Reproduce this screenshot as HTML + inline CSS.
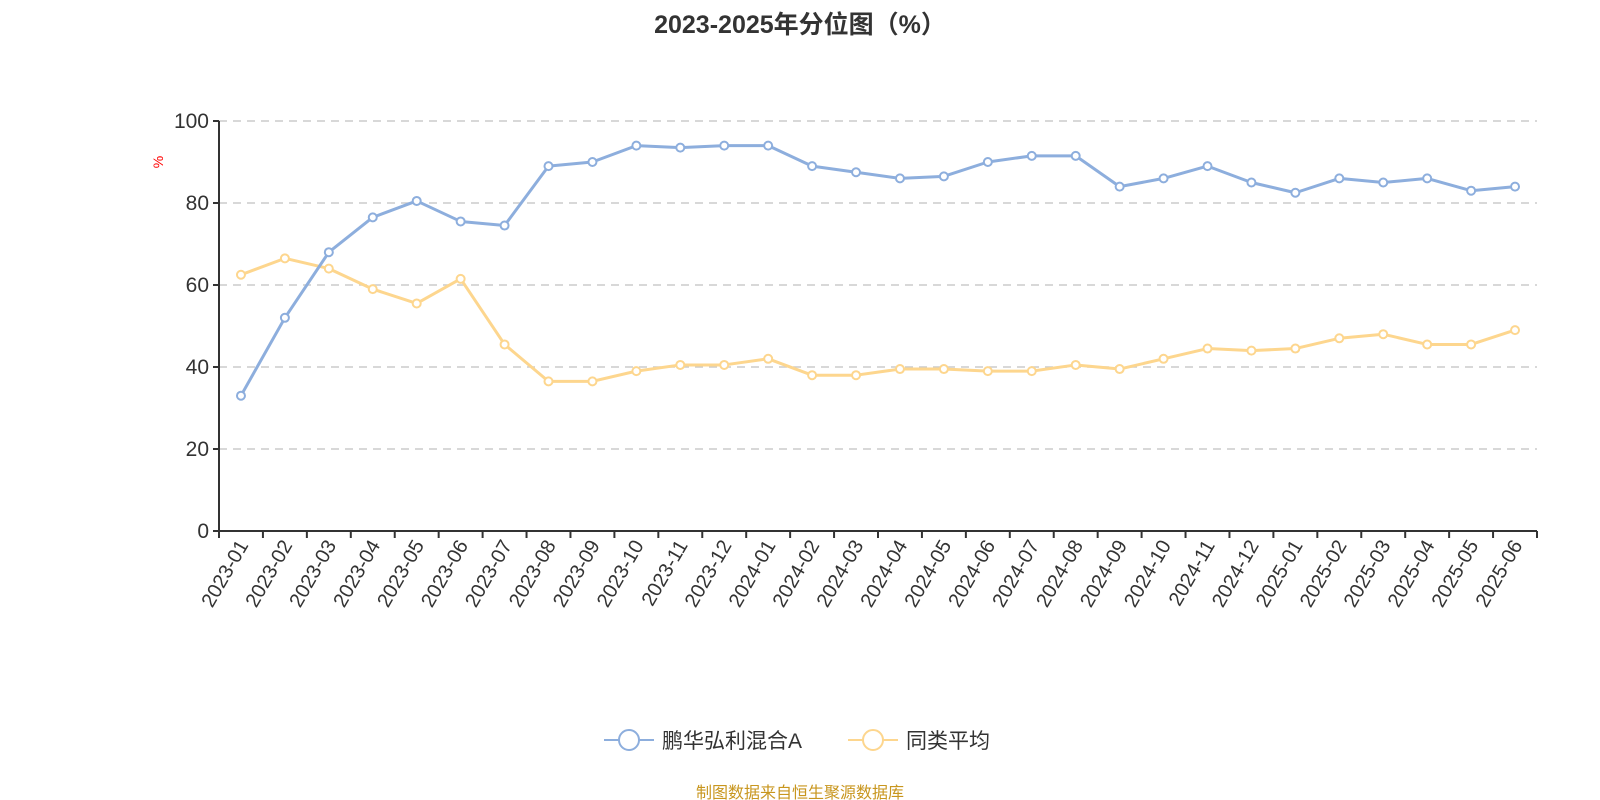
<!DOCTYPE html>
<html><head><meta charset="utf-8"><style>
body{margin:0;background:#fff;}
svg{display:block;font-family:"Liberation Sans","Noto Sans CJK SC",sans-serif;}
</style></head><body>
<svg id="chart" width="1600" height="800">
<text x="800" y="33" text-anchor="middle" font-size="25" font-weight="bold" fill="#333">2023-2025年分位图（%）</text>
<text x="0" y="0" transform="translate(163,162) rotate(-90)" text-anchor="middle" font-size="14" fill="red">%</text>
<g id="grid"></g><g id="axes"></g><g id="series"></g>
<g>
<g>
<line x1="604" y1="740" x2="654" y2="740" stroke="#8daedd" stroke-width="2"/>
<circle cx="629" cy="740" r="10" fill="#fff" stroke="#8daedd" stroke-width="2"/>
<text x="662" y="748" font-size="21" fill="#333">鹏华弘利混合A</text></g>
<g>
<line x1="848" y1="740" x2="898" y2="740" stroke="#fdd68e" stroke-width="2"/>
<circle cx="873" cy="740" r="10" fill="#fff" stroke="#fdd68e" stroke-width="2"/>
<text x="906" y="748" font-size="21" fill="#333">同类平均</text></g>
</g>
<text x="800" y="798" text-anchor="middle" font-size="16" fill="#c8961e">制图数据来自恒生聚源数据库</text>
</svg>
<script>
const categories=["2023-01","2023-02","2023-03","2023-04","2023-05","2023-06","2023-07","2023-08","2023-09","2023-10","2023-11","2023-12","2024-01","2024-02","2024-03","2024-04","2024-05","2024-06","2024-07","2024-08","2024-09","2024-10","2024-11","2024-12","2025-01","2025-02","2025-03","2025-04","2025-05","2025-06"];
const fundValues=[33,52,68,76.5,80.5,75.5,74.5,89,90,94,93.5,94,94,89,87.5,86,86.5,90,91.5,91.5,84,86,89,85,82.5,86,85,86,83,84];
const avgValues=[62.5,66.5,64,59,55.5,61.5,45.5,36.5,36.5,39,40.5,40.5,42,38,38,39.5,39.5,39,39,40.5,39.5,42,44.5,44,44.5,47,48,45.5,45.5,49];
const yTicks=[0,20,40,60,80,100];
const NS="http://www.w3.org/2000/svg";
const L=219,R=1537,T=121,B=531;
const bw=(R-L)/categories.length;
const x=i=>L+bw*(i+0.5);
const y=v=>B-(v/100)*(B-T);
function mk(tag,attrs,parent){const e=document.createElementNS(NS,tag);for(const k in attrs)e.setAttribute(k,attrs[k]);parent.appendChild(e);return e;}
const grid=document.getElementById('grid'),axes=document.getElementById('axes'),ser=document.getElementById('series');
yTicks.forEach(t=>{
  if(t>0){const g=mk('line',{x1:L,x2:R,y1:y(t),y2:y(t),stroke:'#ccc','stroke-width':1.5,'stroke-dasharray':'8,6'},grid);
  
  }
  const tk=mk('line',{x1:L-6,x2:L,y1:y(t),y2:y(t),stroke:'#333','stroke-width':2},axes);
  
  
  const lb=mk('text',{x:L-10,y:y(t)+7,'text-anchor':'end','font-size':21,fill:'#333'},axes);
  lb.textContent=t;
  
  
});
const ya=mk('line',{x1:L,x2:L,y1:T,y2:B,stroke:'#333','stroke-width':2},axes);


const xa=mk('line',{x1:L,x2:R,y1:B,y2:B,stroke:'#333','stroke-width':2},axes);


for(let i=0;i<=categories.length;i++){
  const tk=mk('line',{x1:L+bw*i,x2:L+bw*i,y1:B,y2:B+7,stroke:'#333','stroke-width':2},axes);
  
  
}
categories.forEach((c,i)=>{
  const tx=x(i)+8,ty=B+14;
  const lb=mk('text',{x:tx,y:ty,'text-anchor':'end','font-size':20,fill:'#333',transform:`rotate(-60 ${tx} ${ty})`},axes);
  lb.textContent=c;
  
  
});
function series(vals,color,name){
  const p=mk('polyline',{points:vals.map((v,i)=>x(i)+','+y(v)).join(' '),fill:'none',stroke:color,'stroke-width':3,'stroke-linejoin':'round'},ser);
  
  
  vals.forEach((v,i)=>{
    const c=mk('circle',{cx:x(i),cy:y(v),r:4,fill:'#fff',stroke:color,'stroke-width':2},ser);
    
    
  });
}
series(avgValues,'#fdd68e','category-average');
series(fundValues,'#8daedd','fund');
</script>
</body></html>
